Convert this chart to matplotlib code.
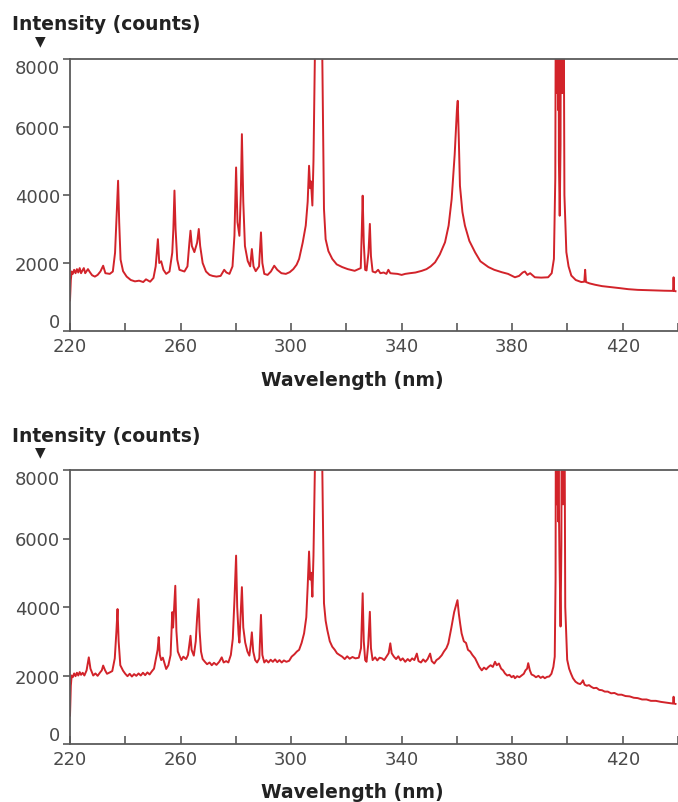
import matplotlib
matplotlib.use("Agg")
import matplotlib.pyplot as plt

LINE = "#d2232a"
SPINE = "#5a5a5a"
TEXT = "#222222"
TICKTXT = "#4a4a4a"

# spectra (wavelength in nm, intensity in counts);
# saturated lines are given values above the 8000 ceiling and get clipped
TOP_WL = [
    220.0, 220.3, 220.6, 221.0, 221.5, 222.0, 222.5, 223.0, 223.5, 224.0,
    224.5, 225.0, 225.5, 226.0, 226.5, 227.2, 228.0, 229.0, 230.0, 231.0,
    232.0, 232.8, 234.4, 235.5, 236.3, 236.9, 237.4, 237.8, 238.3, 239.2,
    240.5, 242.0, 243.5, 245.0, 246.5, 247.5, 249.0, 250.2, 251.0, 251.8,
    252.3, 253.0, 253.8, 254.8, 256.0, 257.0, 257.4, 257.8, 258.2, 258.8,
    259.6, 261.4, 262.5, 263.2, 263.6, 264.1, 265.0, 266.0, 266.6, 267.1,
    268.0, 269.2, 270.5, 271.6, 273.0, 274.5, 275.8, 276.6, 277.7, 278.8,
    279.5, 280.1, 280.6, 281.3, 281.8, 282.2, 282.7, 283.3, 284.3, 285.2,
    285.8, 286.4, 287.2, 288.4, 289.1, 289.6, 290.3, 291.5, 292.7, 293.9,
    295.0, 296.5, 298.1, 299.5, 300.8, 302.0, 302.9, 304.2, 305.3, 306.0,
    306.5, 306.9, 307.2, 307.7, 308.1, 308.6, 309.4, 310.2, 310.9, 311.3,
    311.9, 312.5, 313.5, 314.9, 316.5, 318.5, 320.5, 323.0, 325.2, 325.6,
    325.9, 326.3, 326.8, 327.3, 328.0, 328.5, 328.9, 329.5, 330.5, 331.5,
    332.3, 333.5, 334.5, 335.2, 335.9, 337.0, 338.5, 340.0, 341.3, 343.0,
    345.0, 347.3, 349.0, 350.5, 352.1, 353.8, 355.7, 357.0, 358.1, 359.2,
    360.0, 360.3, 360.7, 361.1, 362.0, 362.9, 364.5, 366.6, 368.5, 371.4,
    373.5, 376.2, 378.5, 381.0, 382.5, 383.8, 384.6, 385.5, 386.5, 388.2,
    390.5, 393.0, 394.3, 395.1, 395.6,
    395.85, 396.0, 396.15, 396.3, 396.45, 396.6, 396.75, 396.9, 397.2,
    397.5, 397.65, 397.8, 397.95, 398.1, 398.25, 398.4, 398.55, 398.9, 399.6,
    400.4, 401.4, 403.0, 405.0,
    406.1, 406.4, 406.7, 408.0, 410.0, 412.5, 415.8, 419.0, 422.0, 425.4,
    429.0, 432.0, 435.0, 437.4, 438.2, 438.4, 438.6, 439.1,
]
TOP_COUNTS = [
    900, 1500, 1750, 1680, 1800, 1700, 1820, 1720, 1850, 1700,
    1780, 1850, 1700, 1760, 1820, 1730, 1640, 1600, 1650, 1750,
    1920, 1700, 1680, 1750, 2300, 3500, 4420, 3200, 2100, 1760,
    1600, 1500, 1460, 1480, 1440, 1520, 1450, 1560, 1900, 2700,
    2000, 2050, 1800, 1680, 1750, 2300, 3000, 4130, 3000, 2100,
    1800, 1750, 1900, 2600, 2950, 2500, 2320, 2600, 3000, 2500,
    2000, 1750, 1650, 1620, 1600, 1620, 1800, 1720, 1680, 1900,
    2800, 4810, 3200, 2800, 4000, 5790, 3800, 2500, 2060, 1900,
    2410, 1900, 1760, 1900, 2900, 2000, 1680, 1650, 1750, 1920,
    1800, 1700, 1680, 1730, 1820, 1950, 2120, 2600, 3100, 3800,
    4860, 4200, 4400, 3690, 5000, 8000, 13000, 16000, 13000, 8000,
    3590, 2700, 2350, 2120, 1960, 1880, 1820, 1770, 1850, 3000,
    3980, 2600, 1800, 1780, 2300, 3150, 2200, 1750, 1720, 1800,
    1700, 1720, 1680, 1800, 1700, 1690, 1680, 1650, 1680, 1700,
    1720, 1770, 1820, 1900, 2020, 2250, 2610, 3100, 3880, 5200,
    6500, 6770, 5600, 4270, 3500, 3100, 2650, 2310, 2050, 1880,
    1800, 1730, 1680, 1580, 1620, 1720, 1750, 1650, 1700, 1580,
    1570, 1580, 1700, 2120, 4500,
    12000, 7000, 12000, 7000, 12000, 6500, 12000, 5000, 3390,
    5500, 12000, 7000, 12000, 7000, 12000, 7000, 12000, 4000, 2320,
    1900, 1630, 1500, 1440,
    1450, 1800, 1440, 1400, 1360, 1320, 1290, 1260, 1230, 1210,
    1200, 1190, 1185, 1180, 1180, 1580, 1180, 1170,
]

BOTTOM_WL = [
    220.0, 220.3, 220.6, 221.0, 221.5, 222.0, 222.5, 223.0, 223.5, 224.0,
    224.6, 225.2, 226.0, 226.8, 227.4, 228.4, 229.2, 230.0, 230.8, 231.5,
    232.0, 232.7, 233.4, 234.4, 235.3, 236.2, 236.8, 237.2, 237.6, 238.2,
    239.2, 240.0, 240.8, 241.6, 242.4, 243.2, 244.0, 244.8, 245.6, 246.4,
    247.2, 248.0, 248.8, 249.6, 250.4, 251.2, 251.7, 252.1, 252.5, 253.0,
    253.6, 254.8, 255.6, 256.4, 257.0, 257.3, 257.7, 258.1, 258.5, 259.0,
    259.6, 260.3, 261.0, 262.0, 262.7, 263.2, 263.6, 264.0, 264.8, 265.5,
    266.0, 266.5, 266.9, 267.4, 268.0, 268.8, 269.6, 270.5, 271.3, 272.1,
    273.0, 274.0, 274.9, 275.6, 276.5, 277.3, 278.2, 278.9, 279.5, 280.1,
    280.5, 281.0, 281.3, 281.8, 282.2, 282.7, 283.4, 284.2, 284.9, 285.4,
    285.8, 286.3, 287.0, 287.7, 288.5, 289.1, 289.6, 290.3, 291.0, 291.8,
    292.6, 293.4, 294.2, 295.0, 295.8, 296.6, 297.4, 298.3, 299.3, 300.2,
    301.2, 302.1, 302.9, 303.8, 304.7, 305.5, 306.0, 306.5, 306.9, 307.3,
    307.7, 308.1, 308.6, 309.4, 310.2, 310.9, 311.3, 311.9, 312.5, 313.1,
    314.0, 314.9, 315.8, 316.6, 317.5, 318.5, 319.4, 320.3, 321.2, 322.2,
    323.3, 324.5, 325.3, 325.6, 325.9, 326.3, 326.8, 327.3, 327.9, 328.5,
    328.9, 329.5, 330.4, 331.2, 332.0, 332.9, 333.7, 334.5, 335.3, 335.9,
    336.4, 337.2, 338.0, 338.8, 339.6, 340.4, 341.3, 342.2, 343.0, 343.8,
    344.6, 345.5, 346.1, 347.0, 347.8, 348.6, 349.4, 350.3, 350.9, 351.8,
    352.6, 353.5, 354.5, 355.3, 356.2, 356.9, 358.0, 359.0, 360.2, 360.7,
    361.2, 361.7, 362.5, 363.3, 364.0, 364.8, 365.6, 366.6, 367.3, 368.1,
    369.0, 369.8, 370.6, 371.4, 372.2, 373.0, 373.8, 374.4, 375.2, 376.0,
    376.7, 377.4, 378.2, 379.0, 379.8, 380.5, 381.0, 381.8, 382.6, 383.4,
    384.2, 384.8, 385.4, 385.8, 386.4, 387.0, 387.8, 388.6, 389.5, 390.3,
    391.1, 391.8, 392.6, 393.4, 394.2, 394.9, 395.4, 395.7,
    395.85, 396.0, 396.15, 396.3, 396.45, 396.6, 396.75, 396.9, 397.1, 397.5,
    397.8, 397.95, 398.1, 398.25, 398.4, 398.55, 398.7, 398.85, 399.2, 399.9,
    400.6,
    401.3, 402.0, 402.9, 403.8, 404.6, 405.2, 405.6, 406.2, 407.0, 407.8,
    408.6, 409.5, 410.5, 411.5, 412.5, 413.5, 414.6, 415.8, 417.0, 418.3,
    419.6, 421.0, 422.5, 424.0, 425.4, 427.0, 428.6, 430.2, 432.0, 433.8,
    435.6, 437.4, 438.2, 438.4, 438.6, 439.1,
]
BOTTOM_COUNTS = [
    830, 1700, 2000, 1950, 2060, 1980, 2080, 2000, 2100, 2020,
    2080, 2000, 2150, 2530, 2200, 2000, 2060, 1990, 2080, 2150,
    2290, 2150, 2050, 2090, 2130, 2500, 3300, 3940, 3000, 2300,
    2140, 2050, 1980, 2050, 1970, 2040, 1990, 2060, 2000, 2080,
    2010, 2090, 2030, 2120, 2200, 2530, 2750, 3120, 2600, 2450,
    2520, 2190, 2300, 2600, 3850, 3400, 4000, 4620, 3300, 2700,
    2580, 2450, 2550, 2480, 2600, 2900, 3160, 2750, 2580, 3000,
    3700, 4230, 3300, 2700, 2480, 2400, 2330, 2380, 2300, 2370,
    2310, 2400, 2530, 2380, 2420, 2380, 2600, 3070, 4200, 5500,
    4000, 3200, 2960, 3900, 4580, 3400, 2960, 2700, 2580, 2900,
    3260, 2700, 2450, 2380, 2500, 3770, 2600, 2380, 2450, 2380,
    2460, 2400, 2470, 2390, 2450, 2380, 2440, 2400, 2430, 2550,
    2620, 2700, 2750, 2950, 3230, 3700, 4600, 5620, 4800, 5000,
    4300, 5500, 8000, 13000, 16000, 13000, 8000, 4110, 3600, 3330,
    3000, 2840, 2750, 2650, 2600, 2550, 2480, 2560, 2490, 2540,
    2500, 2520, 2800, 3600, 4400, 3000, 2450, 2400, 2900, 3860,
    2800, 2450, 2530, 2440, 2520, 2500, 2450, 2550, 2650, 2940,
    2650, 2550, 2480, 2560, 2440, 2500, 2400, 2480, 2420, 2500,
    2450, 2640, 2420, 2380, 2470, 2400, 2480, 2640, 2420, 2350,
    2450, 2500, 2590, 2700, 2800, 2940, 3400, 3850, 4200, 3800,
    3500, 3230, 3000, 2950, 2750, 2700, 2600, 2500, 2380, 2250,
    2150, 2230, 2180, 2250, 2300, 2250, 2400, 2300, 2350, 2200,
    2150, 2060, 2000, 2020, 1950, 1990, 1920, 1980, 1950, 2000,
    2050, 2150, 2200, 2360, 2150, 2030, 2000, 1950, 1990, 1930,
    1970, 1920, 1960, 1970, 2050, 2250, 2550, 4800,
    12000, 7000, 12000, 7000, 12000, 6500, 12000, 7000, 5500, 3430,
    5800, 12000, 7000, 12000, 7000, 12000, 7000, 12000, 4000, 2460,
    2200,
    2050, 1920, 1820, 1770, 1750, 1800, 1860, 1730, 1700, 1720,
    1670, 1630, 1640, 1580, 1570, 1530, 1530, 1480, 1490, 1440,
    1440, 1400, 1390, 1350, 1340, 1300, 1300, 1260, 1260, 1230,
    1210, 1190, 1180, 1380, 1180, 1170,
]

X_TICKS = [220, 260, 300, 340, 380, 420]
X_MINOR = [240, 280, 320, 360, 400, 440]
Y_TICKS = [0, 2000, 4000, 6000, 8000]
X_LABEL = "Wavelength (nm)"
Y_LABEL = "Intensity (counts)"
X_MIN, X_MAX = 220, 439.1
Y_MAX = 8000

plt.rcParams["font.family"] = "DejaVu Sans"

W, H = 678, 803
fig = plt.figure(figsize=(W / 100, H / 100), dpi=100)

# panel boxes in pixels: (left, top, right, bottom)
panels = [
    ((70, 60, 678, 332), TOP_WL, TOP_COUNTS, 25, 41.5, 381),
    ((70, 471, 678, 745), BOTTOM_WL, BOTTOM_COUNTS, 437, 452.5, 793),
]

for (l, t, r, b), wl, counts, ylab_y, tri_y, xlab_y in panels:
    ax = fig.add_axes([l / W, 1 - b / H, (r - l) / W, (b - t) / H])
    ax.plot(wl, counts, color=LINE, lw=1.4)
    ax.set_xlim(X_MIN, X_MAX)
    ax.set_ylim(0, Y_MAX)
    ax.set_yticks(Y_TICKS)
    ax.set_xticks(X_TICKS)
    ax.set_xticks(X_MINOR, minor=True)

    ax.spines["right"].set_visible(False)
    for s in ["left", "bottom", "top"]:
        ax.spines[s].set_color(SPINE)
        ax.spines[s].set_linewidth(1.3)

    ax.tick_params(axis="x", which="both", direction="in", length=6,
                   width=1.2, color=SPINE, labelsize=13, labelcolor=TICKTXT, pad=4)
    ax.tick_params(axis="y", direction="out", length=5, width=1.2,
                   color=SPINE, labelsize=13, labelcolor=TICKTXT, pad=2)

    # end labels sit inside the axis range, as in the original
    ylabels = ax.get_yticklabels()
    ylabels[0].set_verticalalignment("bottom")
    ylabels[-1].set_verticalalignment("top")

    fig.text(12 / W, 1 - ylab_y / H, Y_LABEL, fontsize=13.5, fontweight="bold",
             color=TEXT, ha="left", va="center")
    fig.text(40.5 / W, 1 - tri_y / H, "\u25BC", fontsize=10, color=TEXT,
             ha="center", va="center")
    fig.text(352 / W, 1 - xlab_y / H, X_LABEL, fontsize=13.5, fontweight="bold",
             color=TEXT, ha="center", va="center")

fig.savefig("out.png", dpi=100)
